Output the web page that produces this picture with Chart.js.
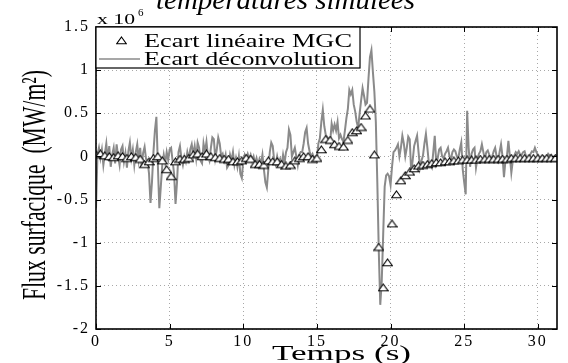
<!DOCTYPE html>
<html>
<head>
<meta charset="utf-8">
<script src="https://cdn.jsdelivr.net/npm/chart.js@4.4.1/dist/chart.umd.min.js"></script>
<style>
  html, body { margin: 0; padding: 0; background: #fff; }
</style>
</head>
<body>
<canvas id="chart" width="568" height="363"></canvas>
<script>
// sampling step of each series (s)
const DT_DECONV = 0.1;
const DT_MGC = 0.3;

// Ecart deconvolution (x 10^6), one row per second
const deconv = [
  -0.6, 0.02, 0.1, -0.02, 0.08, -0.1, 0.03, 0.15, -0.05, 0.12,
  -0.12, 0.02, 0.1, -0.08, 0.14, 0.0, -0.1, 0.08, 0.12, -0.06,
  0.04, -0.13, 0.06, 0.16, -0.02, 0.08, -0.1, 0.05, 0.14, -0.04,
  0.1, -0.12, 0.04, 0.11, -0.03, -0.05, -0.2, -0.54, -0.3, 0.05,
  0.3, 0.46, -0.1, -0.6, -0.35, -0.1, 0.02, -0.08, 0.05, -0.04,
  0.08, 0.1, -0.05, -0.2, -0.55, -0.3, 0.05, 0.12, -0.02, -0.1,
  0.0, -0.06, 0.05, -0.03, 0.08, 0.14, 0.02, 0.12, -0.02, 0.16,
  0.1, -0.05, -0.08, 0.15, 0.05, 0.17, 0.0, -0.05, 0.1, 0.22,
  0.2, -0.02, 0.08, 0.22, 0.15, 0.0, 0.03, -0.05, 0.02, -0.13,
  -0.1, 0.02, -0.05, 0.05, -0.1, -0.02, -0.12, 0.0, -0.2, -0.25,
  -0.05, 0.02, -0.02, 0.03, -0.03, 0.02, -0.05, 0.0, -0.08, -0.02,
  -0.1, -0.03, -0.08, 0.02, -0.15, -0.3, -0.36, -0.15, 0.05, 0.16,
  0.12, -0.05, -0.1, 0.0, -0.08, -0.03, -0.1, 0.02, -0.08, 0.05,
  0.1, 0.31, 0.25, 0.0, 0.05, 0.1, 0.0, -0.1, 0.02, 0.05,
  0.05, 0.15, 0.28, 0.33, 0.15, 0.06, 0.0, 0.03, -0.02, 0.0,
  -0.02, 0.15, 0.21, 0.4, 0.54, 0.35, 0.25, 0.22, 0.2, 0.17,
  0.38, 0.3, 0.37, 0.3, 0.4, 0.21, 0.25, 0.2, 0.17, 0.3,
  0.44, 0.55, 0.77, 0.72, 0.77, 0.6, 0.52, 0.4, 0.33, 0.5,
  0.65, 0.79, 0.7, 0.6, 0.62, 0.9, 1.15, 1.23, 0.98, 0.75,
  0.4, -0.3, -1.1, -1.72, -1.45, -0.9, -0.35, -0.22, -0.2, -0.23,
  -0.33, -0.12, 0.05, 0.07, 0.1, 0.14, 0.0, 0.1, 0.24, 0.15,
  0.0, 0.1, 0.23, 0.2, -0.17, -0.05, 0.12, 0.18, 0.24, 0.05,
  -0.13, -0.05, 0.01, 0.15, 0.26, 0.1, -0.08, -0.1, -0.13, 0.05,
  0.24, -0.08, -0.02, 0.08, 0.1, 0.0, -0.02, 0.03, 0.06, 0.1,
  0.0, -0.03, 0.05, 0.08, 0.06, 0.0, -0.02, 0.08, 0.16, -0.15,
  -0.3, -0.44, 0.53, 0.1, -0.12, 0.03, 0.08, 0.1, -0.13, -0.02,
  0.03, 0.06, 0.14, 0.05, -0.03, 0.05, 0.07, 0.02, -0.02, 0.0,
  0.06, 0.1, 0.0, -0.05, 0.05, 0.14, 0.0, -0.24, -0.05, 0.0,
  0.18, 0.0, -0.19, -0.05, 0.01, 0.05, 0.03, 0.06, 0.02, 0.02,
  0.05, 0.06, 0.0, -0.03, -0.01, 0.03, 0.06, 0.05, 0.1, 0.05,
  0.02, -0.02, -0.05, -0.03, 0.0, -0.02, 0.0, 0.03, 0.01, 0.02,
  -0.02, 0.0, -0.03
];

// Ecart lineaire MGC (x 10^6), every 0.3 s
const mgc = [
  0.02, 0.03, 0.01, 0.0, -0.01, 0.01, 0.0, -0.02, 0.0, -0.01,
  -0.03, -0.09, -0.06, -0.02, 0.0, -0.05, -0.15, -0.23, -0.06, -0.03,
  -0.03, -0.02, 0.02, 0.03, 0.0, 0.03, 0.0, -0.01, -0.02, -0.03,
  -0.03, -0.06, -0.06, -0.05, -0.02, -0.03, -0.09, -0.09, -0.1, -0.05,
  -0.06, -0.06, -0.09, -0.11, -0.1, -0.05, -0.02, 0.0, 0.0, -0.03,
  -0.02, 0.08, 0.2, 0.19, 0.14, 0.12, 0.11, 0.19, 0.28, 0.3,
  0.34, 0.47, 0.55, 0.02, -1.05, -1.52, -1.23, -0.78, -0.44, -0.28,
  -0.22, -0.18, -0.14, -0.11, -0.1, -0.09, -0.08, -0.07, -0.07, -0.06,
  -0.06, -0.05, -0.05, -0.04, -0.04, -0.04, -0.04, -0.03, -0.03, -0.03,
  -0.03, -0.03, -0.03, -0.03, -0.02, -0.02, -0.02, -0.02, -0.02, -0.02,
  -0.02, -0.02, -0.02, -0.02, -0.02
];

const X_TICKS = [0, 5, 10, 15, 20, 25, 30];
const Y_TICKS = [-2, -1.5, -1, -0.5, 0, 0.5, 1, 1.5];
const X_MAX = 31.3;

const SERIF = "'Liberation Serif', 'DejaVu Serif', serif";

function toPoints(values, dt){
  return values.map((v, i) => ({ x: Math.round(i * dt * 100) / 100, y: v }));
}

// flat open triangle, like the matlab '^' marker
function makeTriangle(){
  const c = document.createElement("canvas");
  c.width = 11; c.height = 9;
  const g = c.getContext("2d");
  g.beginPath();
  g.moveTo(5.5, 1); g.lineTo(10.3, 7.8); g.lineTo(0.7, 7.8); g.closePath();
  g.fillStyle = "#fff"; g.fill();
  g.strokeStyle = "#000"; g.lineWidth = 1.1; g.stroke();
  return c;
}
const TRI = makeTriangle();

// draw text squeezed/stretched to a given width
function fitText(ctx, text, x, y, width){
  const w = ctx.measureText(text).width;
  ctx.save();
  ctx.translate(x, y);
  ctx.scale(width / w, 1);
  ctx.textAlign = "left";
  ctx.fillText(text, 0, 0);
  ctx.restore();
}

const tickSpacing = {
  id: "tickSpacing",
  beforeDraw(chart){ chart.ctx.letterSpacing = "2px"; },
  afterDraw(chart){ chart.ctx.letterSpacing = "0px"; }
};

const overlay = {
  id: "overlay",
  afterDraw(chart){
    const ctx = chart.ctx;
    const a = chart.chartArea;
    const xs = chart.scales.x, ys = chart.scales.y;
    ctx.save();
    ctx.letterSpacing = "0px";

    // inward ticks on all four sides
    ctx.strokeStyle = "#000";
    ctx.lineWidth = 1;
    ctx.beginPath();
    X_TICKS.forEach(v => {
      const px = Math.round(xs.getPixelForValue(v)) + 0.5;
      ctx.moveTo(px, a.bottom); ctx.lineTo(px, a.bottom - 5);
      ctx.moveTo(px, a.top); ctx.lineTo(px, a.top + 5);
    });
    Y_TICKS.forEach(v => {
      const py = Math.round(ys.getPixelForValue(v)) + 0.5;
      ctx.moveTo(a.left, py); ctx.lineTo(a.left + 5, py);
      ctx.moveTo(a.right, py); ctx.lineTo(a.right - 5, py);
    });
    ctx.stroke();

    // frame
    ctx.lineWidth = 1.6;
    ctx.strokeRect(a.left, a.top, a.right - a.left, a.bottom - a.top);

    // legend
    const lx = a.left, ly = a.top, lw = 264, lh = 41;
    ctx.fillStyle = "#fff";
    ctx.fillRect(lx, ly, lw, lh);
    ctx.lineWidth = 1.2;
    ctx.strokeRect(lx, ly, lw, lh);
    const ds0 = chart.data.datasets[0], ds1 = chart.data.datasets[1];
    ctx.drawImage(TRI, 116, 36);
    ctx.beginPath();
    ctx.moveTo(99, 59); ctx.lineTo(140, 59);
    ctx.strokeStyle = ds1.borderColor; ctx.lineWidth = 1.5; ctx.stroke();
    ctx.fillStyle = "#000";
    ctx.font = "19px " + SERIF;
    ctx.textBaseline = "alphabetic";
    fitText(ctx, ds0.label, 144, 47, 208);
    fitText(ctx, ds1.label, 144, 65, 210);

    // exponent
    ctx.font = "15px " + SERIF;
    fitText(ctx, "x 10", 97, 24, 38);
    ctx.font = "11px " + SERIF;
    ctx.fillText("6", 138, 16);

    // cut title at the very top
    ctx.font = "italic 27px " + SERIF;
    fitText(ctx, "températures simulées", 156, 9, 259);

    // axis titles
    ctx.font = "20px " + SERIF;
    fitText(ctx, "Temps (s)", 272, 360, 139);
    ctx.save();
    ctx.translate(45, 300);
    ctx.rotate(-Math.PI / 2);
    ctx.font = "34px " + SERIF;
    fitText(ctx, "Flux surfacique  (MW/m²)", 0, 0, 230);
    ctx.restore();

    ctx.restore();
  }
};

new Chart(document.getElementById("chart"), {
  type: "line",
  data: {
    datasets: [
      {
        label: "Ecart linéaire MGC",
        data: toPoints(mgc, DT_MGC),
        showLine: false,
        pointStyle: TRI,
        pointRadius: 5,
        borderColor: "#000",
        backgroundColor: "#fff",
        order: 0
      },
      {
        label: "Ecart déconvolution",
        data: toPoints(deconv, DT_DECONV),
        borderColor: "#8a8a8a",
        borderWidth: 2,
        pointRadius: 0,
        tension: 0,
        order: 1
      }
    ]
  },
  options: {
    responsive: false,
    animation: false,
    layout: { padding: { top: 27, right: 11, left: 0, bottom: 0 } },
    plugins: { legend: { display: false }, tooltip: { enabled: false } },
    scales: {
      x: {
        type: "linear",
        min: 0, max: X_MAX,
        afterBuildTicks: s => { s.ticks = X_TICKS.map(v => ({ value: v })); },
        afterFit: s => { s.height = 34; },
        grid: { color: "#a8a8a8", lineWidth: 1, drawTicks: false },
        border: { display: false, dash: [1, 3] },
        ticks: { padding: 3, color: "#000", font: { family: SERIF, size: 16 }, maxRotation: 0, callback: v => String(v) }
      },
      y: {
        min: -2, max: 1.5,
        afterBuildTicks: s => { s.ticks = Y_TICKS.map(v => ({ value: v })); },
        afterFit: s => { s.width = 96; },
        grid: { color: "#a8a8a8", lineWidth: 1, drawTicks: false },
        border: { display: false, dash: [1, 3] },
        ticks: { padding: 6, color: "#000", font: { family: SERIF, size: 16 }, callback: v => String(v) }
      }
    }
  },
  plugins: [tickSpacing, overlay]
});
</script>
</body>
</html>
